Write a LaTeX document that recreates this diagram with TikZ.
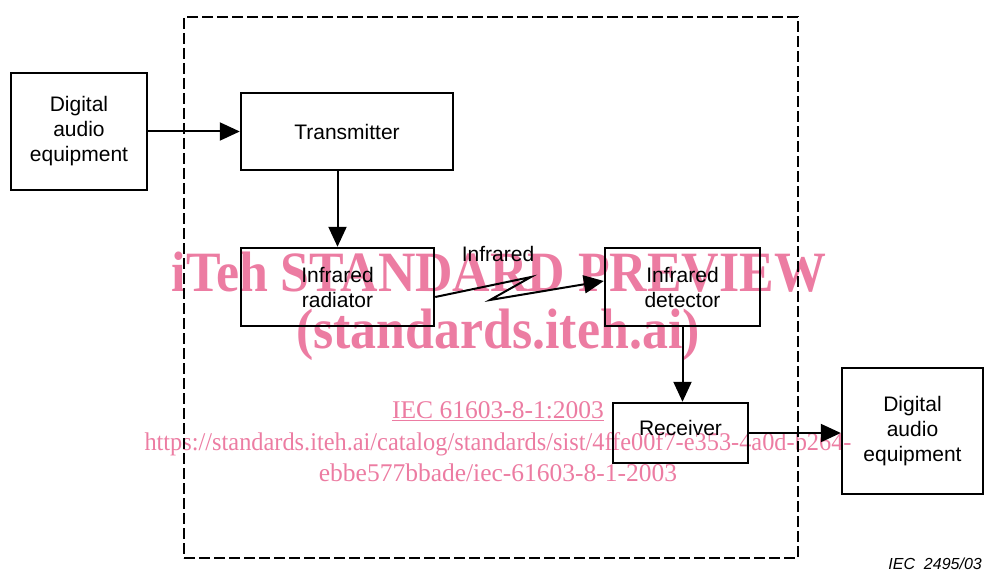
\documentclass[tikz,border=0pt]{standalone}
\usepackage{fontspec}
\setmainfont{Liberation Sans}
\newfontfamily\wmfont{Liberation Serif}
\usetikzlibrary{arrows.meta}
\definecolor{wm}{RGB}{236,124,162}
\begin{document}
\begin{tikzpicture}[x=1pt,y=-1pt,
  box/.style={draw,line width=2.4pt,inner sep=0pt,align=center,font=\fontsize{21}{25}\selectfont},
  arr/.style={line width=2pt,-{Triangle[length=20pt,width=18pt]}},
  lbl/.style={inner sep=0pt,font=\fontsize{21}{25}\selectfont},
  wmbig/.style={text=wm,inner sep=0pt,anchor=base,font=\wmfont\bfseries\fontsize{57}{60}\selectfont},
  wmsmall/.style={text=wm,inner sep=0pt,anchor=base,font=\wmfont\fontsize{25.5}{28}\selectfont}]
\useasboundingbox (0,0) rectangle (984,572);
% watermark
\node[wmbig] (wm1) at (499,291) {\scalebox{0.91}[1]{iTeh STANDARD PREVIEW}};
\node[wmbig] (wm2) at (498,348) {\scalebox{0.91}[1]{(standards.iteh.ai)}};
\node[wmsmall] (wm3) at (498,418) {\underline{IEC 61603-8-1:2003}};
\node[wmsmall] (wm4) at (498,450) {\scalebox{0.955}[1]{https://standards.iteh.ai/catalog/standards/sist/4ffe00f7-e353-4a0d-b264-}};
\node[wmsmall] (wm5) at (498,481) {ebbe577bbade/iec-61603-8-1-2003};
% frame
\node[draw,line width=2.8pt,dash pattern=on 11pt off 4pt,minimum width=614pt,minimum height=541pt,inner sep=0pt] (frame) at (491,287.5) {};
% boxes
\node[box,minimum width=136pt,minimum height=117pt] (src) at (79,131.5) {Digital\\audio\\equipment};
\node[box,minimum width=212pt,minimum height=77pt] (tx) at (347,131.5) {Transmitter};
\node[box,minimum width=193pt,minimum height=78pt] (rad) at (337.5,287) {Infrared\\radiator};
\node[box,minimum width=155pt,minimum height=78pt] (det) at (682.5,287) {Infrared\\detector};
\node[box,minimum width=135pt,minimum height=60pt,text depth=10pt] (rx) at (680.5,433) {Receiver};
\node[box,minimum width=141pt,minimum height=126pt] (dst) at (912.5,431) {Digital\\audio\\equipment};
% connectors
\draw[arr] (src.east) -- (tx.west);
\draw[arr] (rad.north |- tx.south) -- (rad.north);
\coordinate (z1) at (531,277);
\coordinate (z2) at (490,300);
\draw[arr] ([yshift=-10pt]rad.east) -- (z1) -- (z2) -- ([yshift=6pt]det.west);
\node[lbl] (irl) at (498,254) {Infrared};
\draw[arr] (det.south) -- (det.south |- rx.north);
\draw[arr] (rx.east) -- (rx.east -| dst.west);
\node[inner sep=0pt,anchor=base east,font=\itshape\fontsize{16}{18}\selectfont] (fig) at (982,569) {IEC\ \ 2495/03};
\end{tikzpicture}
\end{document}
